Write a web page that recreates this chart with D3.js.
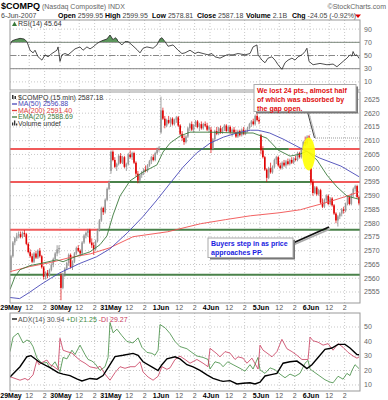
<!DOCTYPE html>
<html>
<head>
<meta charset="utf-8">
<script src="https://cdn.jsdelivr.net/npm/d3@7"></script>
<style>
  body { margin: 0; background: #fff; }
  svg text { font-family: Arial, "Liberation Sans", sans-serif; }
</style>
</head>
<body>
<script>
// 15 min bars, 26 per session: [open, high, low, close]
const may29 = [
  [2563,2568.5,2562,2568],[2568,2573.5,2567.5,2573],[2573,2575,2572,2574.5],[2574.5,2576.5,2573.5,2575.5],
  [2575.5,2577,2574.5,2576],[2576,2577,2574.5,2575],[2575,2577,2574.5,2576.5],[2576.5,2577.5,2575,2576],
  [2576,2576.5,2572,2572.5],[2572.5,2573,2569,2569.5],[2569.5,2570.5,2567.5,2568],[2568,2569,2565.5,2566],
  [2566,2569.5,2565.5,2569],[2569,2570,2567,2567.5],[2567.5,2570.5,2567,2570],[2570,2571,2567.5,2568],
  [2568,2568.5,2563.5,2564],[2564,2564.5,2559.5,2560.5],[2560.5,2562.5,2559.5,2562],[2562,2563,2560,2561],
  [2561,2563.5,2560.5,2563],[2563,2565.5,2562.5,2565],[2565,2567.5,2564,2567],[2567,2569.5,2566.5,2569],
  [2569,2572,2568,2570.5],[2570.5,2572,2569,2571]];
const may30 = [
  [2561,2562,2552,2556.5],[2556.5,2562,2556,2561.5],[2561.5,2564,2560.5,2563.5],[2563.5,2566,2563,2565.5],
  [2565.5,2569,2564.5,2568.5],[2568.5,2569,2563.5,2564],[2564,2566.5,2563,2566],[2566,2569.5,2565.5,2569],
  [2569,2571.5,2568.5,2571],[2571,2572,2569.5,2570],[2570,2570.5,2568,2569],[2569,2573.5,2568.5,2573],
  [2573,2576,2572.5,2575.5],[2575.5,2577,2574.5,2576.5],[2576.5,2578,2575,2577.5],[2577.5,2578,2572.5,2573],
  [2573,2574.5,2571,2572],[2572,2573,2568.5,2570.5],[2570.5,2574,2570,2573.5],[2573.5,2578,2573,2577.5],
  [2577.5,2581.5,2577,2581],[2581,2586,2580.5,2585.5],[2585.5,2586,2583,2584],[2584,2589,2583.5,2588.5],
  [2588.5,2593,2588,2592.5],[2592.5,2595.5,2592,2595]];
const may31 = [
  [2599,2606.5,2598,2606],[2606,2606.5,2602.5,2603],[2603,2604,2600,2600.5],[2600.5,2602,2599,2601.5],
  [2601.5,2605,2601,2604.5],[2604.5,2605.5,2601.5,2602],[2602,2604.5,2601.5,2604],[2604,2604.5,2600,2600.5],
  [2600.5,2602,2599,2601.5],[2601.5,2605.5,2601,2605],[2605,2606.5,2603.5,2604],[2604,2606,2603,2605.5],
  [2605.5,2606,2601.5,2602],[2602,2602.5,2597,2598],[2598,2599,2594.5,2595.5],[2595.5,2598,2594.5,2597.5],
  [2597.5,2599,2596.5,2598.5],[2598.5,2600,2597.5,2599.5],[2599.5,2601,2598.5,2599],[2599,2601.5,2598.5,2601],
  [2601,2603,2600.5,2602.5],[2602.5,2604.5,2601.5,2604],[2604,2605,2602.5,2603],[2603,2606,2602.5,2605.5],
  [2605.5,2607.5,2605,2607],[2607,2608,2606,2607.5]];
const jun1 = [
  [2613,2626,2612.5,2621],[2621,2622,2617.5,2618],[2618,2619,2614.5,2615.5],[2615.5,2618,2615,2617.5],
  [2617.5,2619,2616,2616.5],[2616.5,2618.5,2615,2618],[2618,2618.5,2615.5,2616],[2616,2618,2615.5,2617.5],
  [2617.5,2619,2616.5,2618.5],[2618.5,2619,2615,2615.5],[2615.5,2616,2612,2612.5],[2612.5,2613.5,2610,2611],
  [2611,2612,2608.5,2609.5],[2609.5,2612,2609,2611.5],[2611.5,2615,2611,2614.5],[2614.5,2616.5,2613.5,2616],
  [2616,2617,2613.5,2614],[2614,2616,2613,2615.5],[2615.5,2617.5,2615,2617],[2617,2617.5,2614.5,2615],
  [2615,2616.5,2613.5,2616],[2616,2617,2614,2614.5],[2614.5,2616.5,2614,2616],[2616,2617,2615,2615.5],
  [2615.5,2616.5,2613.5,2614],[2614,2615.5,2613,2615]];
const jun4 = [
  [2614,2615,2605.5,2607],[2607,2611,2606.5,2610.5],[2610.5,2614,2610,2613.5],[2613.5,2615,2612,2612.5],
  [2612.5,2615,2612,2614.5],[2614.5,2615.5,2612.5,2613],[2613,2615,2612.5,2614.5],[2614.5,2616,2613.5,2615.5],
  [2615.5,2616,2613,2613.5],[2613.5,2615.5,2613,2615],[2615,2615.5,2612.5,2613],[2613,2614.5,2611.5,2614],
  [2614,2615,2612.5,2613],[2613,2614,2611,2611.5],[2611.5,2614,2611,2613.5],[2613.5,2614,2611.5,2612],
  [2612,2614.5,2611.5,2614],[2614,2615,2612,2612.5],[2612.5,2614,2612,2613.5],[2613.5,2615,2613,2614.5],
  [2614.5,2616.5,2614,2616],[2616,2617.5,2615,2617],[2617,2618,2615.5,2616],[2616,2619.5,2615.5,2619],
  [2619,2620,2617,2617.5],[2617.5,2618.5,2616,2617]];
const jun5 = [
  [2612,2612.5,2605,2606.5],[2606.5,2608,2603.5,2604],[2604,2604.5,2599,2599.5],[2599.5,2600,2595,2596.5],
  [2596.5,2600.5,2596,2600],[2600,2602,2598,2598.5],[2598.5,2601,2598,2600.5],[2600.5,2603.5,2600,2603],
  [2603,2604.5,2601.5,2604],[2604,2604.5,2600.5,2601],[2601,2602,2599.5,2600],[2600,2602.5,2599.5,2602],
  [2602,2603,2600.5,2601],[2601,2603,2600,2602.5],[2602.5,2603.5,2601,2601.5],[2601.5,2603.5,2601,2603],
  [2603,2604,2601.5,2602],[2602,2604,2601.5,2603.5],[2603.5,2604.5,2602.5,2603],[2603,2606,2602.5,2605.5],
  [2605.5,2606,2603.5,2604],[2604,2607.5,2603.5,2607],[2607,2610,2606.5,2609.5],[2609.5,2611.5,2608,2609],
  [2609,2612,2608.5,2611.5],[2611.5,2612,2610,2611.2]];
const jun6 = [
  [2600,2600,2594,2595],[2595,2596,2590,2591],[2591,2593.5,2590.5,2593],[2593,2593.5,2590,2590.5],
  [2590.5,2592.5,2590,2592],[2592,2592.5,2587,2587.5],[2587.5,2589,2585.5,2586],[2586,2589,2585.5,2588.5],
  [2588.5,2590.5,2587.5,2590],[2590,2590.5,2586.5,2587],[2587,2589.5,2586.5,2589],[2589,2589.5,2586,2586.5],
  [2586.5,2587,2583,2583.5],[2583.5,2584,2580,2581],[2581,2583,2578.8,2582.5],[2582.5,2584,2581.5,2583.5],
  [2583.5,2585.5,2582.5,2585],[2585,2586,2583.5,2584.5],[2584.5,2587.5,2584,2587],[2587,2590,2586.5,2589.5],
  [2589.5,2590,2586.5,2587],[2587,2591,2586.5,2590.5],[2590.5,2593,2589.5,2592.5],[2592.5,2594,2591.5,2593.5],
  [2593.5,2594,2589,2589.5],[2589.5,2590,2586.5,2587.2]];

const dayLabels = ["29May","30May","31May","1Jun","4Jun","5Jun","6Jun"];
const hourLabels = [[10, "12"], [18, "2"]];   // bars after the 9:30 open
const priceTicks = [2555,2560,2565,2570,2575,2580,2585,2590,2595,2600,2605,2610,2615,2620,2625];
const rsiTicks = [10,30,50,70,90];
const adxTicks = [10,20,30,40,50];

// overlays: [bar, value]
const ma50 = [[0,2553],[5,2552.6],[10,2554.8],[16,2557.7],[21,2559.9],[26,2562],[36,2565.3],[45,2567.8],
  [52,2570.7],[61,2576.5],[69,2582.3],[76,2588.1],[83,2594.3],[90,2600.4],[97,2605.5],[104,2609.1],
  [111,2611.3],[118,2612.8],[125,2613.8],[129,2613.8],[135,2612.8],[142,2610.6],[151,2607.3],
  [161,2603.7],[172,2600.8],[181.5,2596.9]];
const ma200 = [[0,2562.4],[10,2564.2],[21,2565.7],[31,2567.5],[42,2568.9],[52,2571.1],[64,2575.1],
  [82,2576.9],[99,2579.8],[112,2581.3],[125,2582.7],[140,2583.8],[151,2584.9],[156,2585.9],
  [166,2587.8],[174,2589.6],[181.5,2591.4]];
const ema20 = [[0,2555.9],[2.6,2560.6],[5.2,2563.1],[10.4,2564.6],[18.2,2565.7],[24.4,2566.7],[27.6,2566],
  [33.8,2567.8],[41.6,2569.6],[46.8,2572.2],[50.4,2575.4],[53.6,2583],[57.2,2589.9],[62.4,2595.4],
  [69.2,2598.6],[76.4,2601.2],[79.6,2605.9],[83.2,2609.1],[88.4,2611.7],[93.6,2613.1],[104,2613.1],
  [118,2612.8],[126.4,2612.8],[133.6,2610.9],[139.4,2606.6],[145.6,2604.4],[150.8,2605.1],
  [154.4,2606.2],[159.6,2603],[164.8,2597.5],[170,2593.2],[175.2,2589.9],[181.5,2588.7]];
const rsi14 = [[0,66],[1,72],[2.6,74],[5.2,76],[7.3,75],[8.8,71],[10.4,58],[12,54],[13,58],[14.6,48],
  [16.6,43],[18.2,51],[19.8,48],[21.8,53],[24.4,58],[25,63],[26,41],[27,51],[28.6,53],[30.2,51],
  [32.2,56],[33.8,60],[36.4,63],[38,58],[40,63],[41.6,60],[43.2,63],[45.2,68],[46.8,71],[48.4,73],
  [50.4,75],[52,81],[53.6,74],[54.6,77],[55.6,75],[56,72],[58.2,66],[59.8,71],[61.4,71],[63.4,66],
  [66,59],[67.6,54],[69.2,61],[71.2,63],[74.4,61],[76.4,66],[78,75],[79,77],[80.6,71],[82.2,64],
  [84.8,66],[87.4,58],[89.4,53],[91,54],[93.6,58],[96.2,53],[97.8,55],[100.4,53],[103,51],[105,53],
  [106.6,48],[109.2,46],[112.8,51],[116,51],[118.6,53],[122.2,51],[124.8,53],[126.4,63],[128.4,66],
  [129,51],[131,43],[132.6,39],[134.2,46],[136.2,48],[137.8,43],[139.4,36],[141.4,29],[143,39],
  [144.6,43],[146.6,46],[148.2,43],[149.8,48],[151.8,51],[153.4,56],[154.4,61],[155.5,41],[157.6,36],
  [161.2,38],[164.8,36],[168,37],[170,33],[171.6,37],[173.2,41],[175.2,46],[176.8,51],[177.8,49],
  [178.4,56],[179.4,50],[180.4,51],[181.5,45.6]];
const adx14 = [[0,15.5],[5.2,22.6],[8.8,29.5],[10.9,30.2],[15.6,25.5],[20.8,22],[25,18.5],[27.6,17.5],
  [31.2,16.5],[35,14],[37.4,12.8],[41.6,14.5],[45.2,14],[48.4,16.5],[52,24],[54.6,29.6],[58.8,30.5],
  [64,31.8],[66.6,30.5],[69.2,26],[74.4,22],[77,20],[79,24],[81.6,28],[85.8,29.4],[88.4,28],[92,24],
  [95.2,22.5],[98.8,20],[102.4,17],[105.6,14.6],[109.2,13],[110.8,12.5],[114.4,13],[118,10.7],
  [121.2,11.2],[124.8,11.5],[127.4,10.7],[130,12],[132.6,16.2],[135.2,17],[138.8,18],[142,25],
  [145.6,26],[149.2,26.5],[151.8,24],[154.4,21.3],[157,24],[160.2,29],[163.8,34.6],[167.4,35.5],
  [170.6,38],[174.2,38],[176.8,35.5],[180.4,31],[181.5,30.9]];
const plusDI = [[0,33],[1.6,43],[4.2,45.8],[6.8,39],[8.8,41],[10.4,40],[12,36.4],[14,28.6],[16.6,25],
  [19.2,25.5],[20.8,21.7],[23.4,26],[25,21.7],[26,19.2],[27.6,29],[29.6,28],[32.2,34],[33.8,31],
  [36.4,37.5],[39,31],[40.6,27.6],[42.6,26.5],[44.2,24.8],[46.8,20],[49.4,22.6],[51,29],[52,53],
  [53.6,46],[55.6,48.5],[58.2,44],[60.8,40],[64,39],[66.6,42.5],[68.6,36],[71.2,32.5],[73.8,31.8],
  [75.4,30.5],[77,34],[78,51.7],[80.6,49.5],[83.2,45.5],[85.8,40],[88.4,36.5],[92,35],[94.6,32.4],
  [97.2,30],[100.4,29],[103,27.6],[104,21],[106.6,26],[109.2,25],[110.8,22.6],[113.2,26],[116,24],
  [119.6,21.5],[122.2,19.5],[124.8,24],[126.4,21],[128,26],[129,29],[130,20.4],[132.6,18],[135.2,21.8],
  [137.8,20.5],[140.4,17.5],[143,15],[145.6,17.5],[148.2,16],[150.8,18],[153.4,25],[155,27],[156,21],
  [160.2,17],[163.8,13.6],[166.4,12],[168,11.5],[170.6,16],[173.2,14],[175.2,18],[176.8,16.5],
  [177.8,20],[179.4,24],[181.5,21.3]];
const minusDI = [[0,15.7],[2.6,14.5],[5.2,13.3],[7.8,14.5],[9.4,13.3],[12,17],[14,27.2],[15,24],[16.6,25.5],
  [19.2,27.2],[20.8,24],[22.4,23],[25,20.5],[26,42.2],[27.6,34],[29.6,33],[32.2,32],[33.8,30],[36.4,27],
  [39,25],[41.6,22.5],[45.2,21.5],[46.8,23],[49.4,17.5],[52,13.3],[54.6,18.5],[57.2,22.6],[59.8,21.5],
  [62.4,22.6],[65,22.6],[67.6,26],[69.2,19],[71.8,15.5],[74.4,13.3],[77,16],[79,22.6],[81.6,20.8],
  [83.2,21.8],[85.8,27.6],[88.4,29.9],[91,27.6],[93.6,25],[97.2,27.6],[100.4,25],[103,22.6],[104,35.3],
  [107.6,31.5],[109.2,29.4],[111.8,33],[114.4,32],[117,27.6],[118.6,29.4],[121.2,28.5],[123.2,25],
  [125.8,28.5],[129,21],[130,37.5],[131.6,34],[134.2,31.5],[136.2,29.4],[138.8,33],[141.4,41.5],[144,35],
  [146.6,33],[149.2,30.5],[151.8,27.6],[155,27.6],[156,43],[157.6,40.5],[160.2,39.5],[162.8,37.5],
  [165.4,38.5],[168,34],[170.6,38.5],[173.2,36],[175.8,32.5],[178.4,30],[180.4,28.5],[181.5,29.3]];

// hand-drawn levels; each piece: [fromBar, toBar, "res" | "sup"]
const pivotLevels = [2607, 2595, 2577.6, 2561.3];
const pivotPieces = [
  [[0, 78, "res"], [78, 145, "sup"], [145, 182, "res"]],
  [[0, 52, "res"], [52, 156, "sup"], [156, 182, "res"]],
  [[0, 46, "res"], [46, 182, "sup"]],
  [[0, 182, "sup"]]];

const bars = [may29, may30, may31, jun1, jun4, jun5, jun6].flat()
  .map((b, i) => ({ i, o: b[0], h: b[1], l: b[2], c: b[3] }));

const L = 10, R = 360;
const rsiBox = [20, 90], priceBox = [92, 303], adxBox = [313, 391];

const svg = d3.select("body").append("svg").attr("width", 388).attr("height", 400);
const defs = svg.append("defs");

const x = d3.scaleLinear().domain([0, 182]).range([L, R]);
const yR = d3.scaleLinear().domain([0, 100]).range([88.5, 22.5]);
const yP = d3.scaleLinear().domain([2551, 2627.7]).range([303, 92]);
const yA = d3.scaleLinear().domain([5.5, 60]).range([391.5, 312.5]);

const timeTicks = [];
dayLabels.forEach((d, k) => {
  timeTicks.push({ bar: 26 * k, text: d, bold: true });
  hourLabels.forEach(h => timeTicks.push({ bar: 26 * k + h[0], text: h[1], bold: false }));
});

function panel(box, y, ticks, id) {
  const g = svg.append("g");
  defs.append("clipPath").attr("id", id).append("rect")
    .attr("x", L).attr("y", box[0]).attr("width", R - L).attr("height", box[1] - box[0]);
  g.selectAll("line.vg").data(timeTicks.filter(t => t.bar > 0)).join("line")
    .attr("x1", t => x(t.bar)).attr("x2", t => x(t.bar))
    .attr("y1", box[0]).attr("y2", box[1])
    .attr("stroke", "#c8c8c8").attr("stroke-dasharray", "1,2");
  g.selectAll("line.hg").data(ticks).join("line")
    .attr("x1", L).attr("x2", R).attr("y1", v => y(v)).attr("y2", v => y(v))
    .attr("stroke", "#c8c8c8").attr("stroke-dasharray", "1,2");
  g.selectAll("text.yt").data(ticks).join("text")
    .attr("x", R + 4).attr("y", v => y(v) + 2.5)
    .attr("font-size", 7).attr("fill", "#666").text(v => v);
  const inner = svg.append("g").attr("clip-path", `url(#${id})`);
  const frame = () => svg.append("rect").attr("x", L).attr("y", box[0])
    .attr("width", R - L).attr("height", box[1] - box[0])
    .attr("fill", "none").attr("stroke", "#999");
  return { inner, frame };
}

function timeAxis(yBase) {
  svg.append("g").selectAll("text").data(timeTicks).join("text")
    .attr("x", t => x(t.bar) + (t.bold ? 1 : 0)).attr("y", yBase)
    .attr("text-anchor", "middle").attr("font-size", 7)
    .attr("font-weight", t => t.bold ? "bold" : "normal")
    .attr("fill", t => t.bold ? "#000" : "#555").text(t => t.text);
}

const line = (yS) => d3.line().x(d => x(d[0])).y(d => yS(d[1]));

// ---- header ----
svg.append("text").attr("x", 1).attr("y", 9).attr("font-size", 9).attr("font-weight", "bold")
  .text("$COMPQ").append("tspan").attr("font-weight", "normal").attr("font-size", 7)
  .attr("fill", "#666").text(" (Nasdaq Composite) INDX");
svg.append("text").attr("x", 386).attr("y", 9).attr("text-anchor", "end").attr("font-size", 7)
  .attr("fill", "#666").text("\u00a9StockCharts.com");
svg.append("text").attr("x", 1).attr("y", 18).attr("font-size", 7).attr("fill", "#444").text("6-Jun-2007");
const quote = [["Open", "2599.95", 58], ["High", "2599.95", 105], ["Low", "2578.81", 152],
  ["Close", "2587.18", 197], ["Volume", "2.1B", 246], ["Chg", "-24.05 (-0.92%)", 292]];
quote.forEach(q => {
  const t = svg.append("text").attr("x", q[2]).attr("y", 18).attr("font-size", 7);
  t.append("tspan").attr("font-weight", "bold").text(q[0] + " ");
  t.append("tspan").attr("fill", "#444").text(q[1]);
});
svg.append("path").attr("d", "M355,14.5 L361,14.5 L358,18 Z").attr("fill", "#d00");

// ---- RSI panel ----
const rsiP = panel(rsiBox, yR, rsiTicks, "clipRsi");
[70, 30].forEach(v => rsiP.inner.append("line").attr("x1", L).attr("x2", R)
  .attr("y1", yR(v)).attr("y2", yR(v)).attr("stroke", "#888"));
rsiP.inner.append("line").attr("x1", L).attr("x2", R).attr("y1", yR(50)).attr("y2", yR(50))
  .attr("stroke", "#888").attr("stroke-dasharray", "6,2,1,2");
defs.append("clipPath").attr("id", "rsiHigh").append("rect")
  .attr("x", L).attr("y", rsiBox[0]).attr("width", R - L).attr("height", yR(70) - rsiBox[0]);
rsiP.inner.append("path").datum(rsi14).attr("clip-path", "url(#rsiHigh)")
  .attr("d", d3.area().x(d => x(d[0])).y0(yR(70)).y1(d => yR(d[1])))
  .attr("fill", "#5b955b");
rsiP.inner.append("path").datum(rsi14).attr("d", line(yR))
  .attr("fill", "none").attr("stroke", "#222").attr("stroke-width", 0.8);
rsiP.frame();
svg.append("path").attr("d", "M12,26 L14.5,21.5 L17,26 Z").attr("fill", "#3a7a3a");
svg.append("text").attr("x", 18).attr("y", 26).attr("font-size", 7).attr("fill", "#333").text("RSI(14) 45.64");

// ---- price panel ----
const pP = panel(priceBox, yP, priceTicks, "clipPrice");
const pivotCol = { res: "#f05a5a", sup: "#4a824a" };
pivotLevels.forEach((lv, k) => {
  pP.inner.selectAll(null).data(pivotPieces[k]).join("line")
    .attr("x1", p => x(p[0])).attr("x2", p => x(p[1]))
    .attr("y1", yP(lv)).attr("y2", yP(lv))
    .attr("stroke", p => pivotCol[p[2]]).attr("stroke-width", 2);
});
const upCol = "#9a9a9a", dnCol = "#e00000";
pP.inner.selectAll("line.wick").data(bars).join("line")
  .attr("x1", d => x(d.i + 0.5)).attr("x2", d => x(d.i + 0.5))
  .attr("y1", d => yP(d.h)).attr("y2", d => yP(d.l))
  .attr("stroke", d => d.c >= d.o ? "#777" : dnCol).attr("stroke-width", 0.7);
pP.inner.selectAll("rect.body").data(bars).join("rect")
  .attr("x", d => x(d.i + 0.5) - 0.8).attr("width", 1.6)
  .attr("y", d => yP(Math.max(d.o, d.c)))
  .attr("height", d => Math.max(0.7, Math.abs(yP(d.o) - yP(d.c))))
  .attr("fill", d => d.c >= d.o ? upCol : dnCol);
pP.inner.append("path").datum(ma200).attr("d", line(yP)).attr("fill", "none").attr("stroke", "#f05050").attr("stroke-width", 0.9);
pP.inner.append("path").datum(ma50).attr("d", line(yP)).attr("fill", "none").attr("stroke", "#4848b8").attr("stroke-width", 0.9);
pP.inner.append("path").datum(ema20).attr("d", line(yP)).attr("fill", "none").attr("stroke", "#3c7a3c").attr("stroke-width", 0.9);
pP.frame();

// price legend
const leg = [["MA(50) 2596.88", "#4848b8"], ["MA(200) 2591.40", "#e03a3a"], ["EMA(20) 2588.69", "#3c7a3c"]];
svg.append("rect").attr("x", 12).attr("y", 95).attr("width", 1.5).attr("height", 4).attr("fill", "#333");
svg.append("rect").attr("x", 14.5).attr("y", 96).attr("width", 1.5).attr("height", 3).attr("fill", "#333");
svg.append("text").attr("x", 18).attr("y", 99.5).attr("font-size", 7).attr("fill", "#333").text("$COMPQ (15 min) 2587.18");
leg.forEach((l, k) => {
  const yy = 106 + k * 6.5;
  svg.append("line").attr("x1", 12).attr("x2", 17).attr("y1", yy - 2).attr("y2", yy - 2).attr("stroke", l[1]).attr("stroke-width", 1.3);
  svg.append("text").attr("x", 18).attr("y", yy).attr("font-size", 7).attr("fill", l[1]).text(l[0]);
});
[[12, 3], [14, 5], [16, 2]].forEach(b => svg.append("rect").attr("x", b[0]).attr("y", 125.5 - b[1])
  .attr("width", 1.3).attr("height", b[1]).attr("fill", "#333"));
svg.append("text").attr("x", 18).attr("y", 125.5).attr("font-size", 7).attr("fill", "#333").text("Volume undef");

// annotations (drawn by hand on the chart, pixel positions)
svg.append("ellipse").attr("cx", x(155.3)).attr("cy", yP(2605.2)).attr("rx", 6.5).attr("ry", 16.5)
  .attr("fill", "#ffff00").attr("opacity", 0.9);
svg.append("line").attr("x1", 315).attr("x2", 360).attr("y1", 138).attr("y2", 138)
  .attr("stroke", "#999").attr("stroke-dasharray", "1,1");
svg.append("line").attr("x1", 309).attr("y1", 113).attr("x2", 316).attr("y2", 139).attr("stroke", "#bbb");
svg.append("line").attr("x1", 307.5).attr("y1", 112).attr("x2", 314.5).attr("y2", 138).attr("stroke", "#444");
function note(x0, y0, w, h, lines, col) {
  svg.append("rect").attr("x", x0 + 2).attr("y", y0 + 2).attr("width", w).attr("height", h).attr("fill", "#777");
  svg.append("rect").attr("x", x0).attr("y", y0).attr("width", w).attr("height", h)
    .attr("fill", "#fff").attr("stroke", "#aaa");
  lines.forEach((s, k) => svg.append("text").attr("x", x0 + 3).attr("y", y0 + 8 + k * 9)
    .attr("font-size", 7).attr("font-weight", "bold").attr("fill", col).text(s));
}
note(254, 84.5, 102, 27, ["We lost 24 pts., almost half", "of which was absorbed by", "the gap open."], "#e01010");
svg.append("line").attr("x1", 293).attr("y1", 245).attr("x2", 330).attr("y2", 229).attr("stroke", "#aaa").attr("stroke-width", 1.5);
svg.append("line").attr("x1", 293).attr("y1", 243).attr("x2", 329).attr("y2", 227).attr("stroke", "#111").attr("stroke-width", 1.8);
note(208, 238, 85, 19.5, ["Buyers step in as price", "approaches PP."], "#1a1ae0");

timeAxis(310);

// ---- ADX panel ----
const aP = panel(adxBox, yA, adxTicks, "clipAdx");
aP.inner.append("path").datum(plusDI).attr("d", line(yA)).attr("fill", "none").attr("stroke", "#3f8a3f").attr("stroke-width", 0.8);
aP.inner.append("path").datum(minusDI).attr("d", line(yA)).attr("fill", "none").attr("stroke", "#c8385a").attr("stroke-width", 0.8);
aP.inner.append("path").datum(adx14).attr("d", line(yA)).attr("fill", "none").attr("stroke", "#000").attr("stroke-width", 1.4);
aP.frame();
svg.append("line").attr("x1", 12).attr("x2", 17).attr("y1", 319).attr("y2", 319).attr("stroke", "#000").attr("stroke-width", 1.3);
const adxLeg = svg.append("text").attr("x", 18).attr("y", 321.5).attr("font-size", 7);
adxLeg.append("tspan").attr("fill", "#555").text("ADX(14) 30.94 ");
adxLeg.append("tspan").attr("fill", "#3f8a3f").text("+DI 21.25 ");
adxLeg.append("tspan").attr("fill", "#c8385a").text("-DI 29.27");

timeAxis(398);
</script>
</body>
</html>
